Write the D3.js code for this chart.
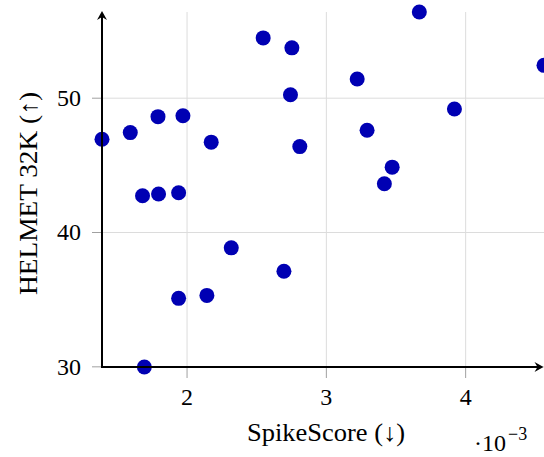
<!DOCTYPE html>
<html>
<head>
<meta charset="utf-8">
<script src="https://cdn.jsdelivr.net/npm/d3@7"></script>
<style>
  body { margin: 0; background: #fff; }
  svg text { font-family: "Liberation Serif", serif; fill: #000; }
</style>
</head>
<body>
<svg id="main_svg_container" width="544" height="457"></svg>
<script>
// SpikeScore values are in units of 1e-3
var spike_score = [1.393, 1.596, 1.795, 1.974, 2.550, 2.756, 2.746, 2.177, 2.813,
                   1.684, 1.799, 1.943, 2.321, 2.699, 1.943, 2.146, 1.697,
                   3.671, 4.566, 3.225, 3.923, 3.296, 3.476, 3.420];
var helmet_32k = [46.91, 47.40, 48.59, 48.66, 54.45, 53.71, 50.22, 46.69, 46.36,
                  42.70, 42.83, 42.92, 38.82, 37.08, 35.06, 35.28, 29.95,
                  56.38, 52.41, 51.39, 49.16, 47.58, 44.83, 43.59];
var x_ticks = [2, 3, 4];
var y_ticks = [30, 40, 50];

var svg_width = 544;
var svg_height = 457;
var margin = {left: 102, right: 0, top: 12, bottom: 90};

var svg = d3.select("#main_svg_container");

var x = d3.scaleLinear()
    .domain(d3.extent(spike_score))
    .range([margin.left, svg_width - margin.right]);

var y = d3.scaleLinear()
    .domain(d3.extent(helmet_32k))
    .range([svg_height - margin.bottom, margin.top]);

var x0 = x.range()[0], x1 = x.range()[1];
var y0 = y.range()[0], y1 = y.range()[1];


function drawGrid() {
  svg.append("g")
      .attr("transform", "translate(0," + y0 + ")")
      .call(d3.axisBottom(x).tickValues(x_ticks).tickSize(-(y0 - y1)).tickFormat(""))
      .call(function(g) { g.select(".domain").remove(); })
      .selectAll("line")
      .attr("stroke", "#dcdcdc");

  svg.append("g")
      .attr("transform", "translate(" + x0 + ",0)")
      .call(d3.axisLeft(y).tickValues(y_ticks).tickSize(-(x1 - x0)).tickFormat(""))
      .call(function(g) { g.select(".domain").remove(); })
      .selectAll("line")
      .attr("stroke", "#dcdcdc");
}


function drawTicks() {
  var gx = svg.append("g")
      .attr("transform", "translate(0," + y0 + ")")
      .call(d3.axisBottom(x).tickValues(x_ticks).tickSize(11).tickPadding(10).tickFormat(d3.format("d")));
  gx.select(".domain").remove();
  gx.selectAll("line").attr("stroke", "#a0a0a0");
  gx.selectAll("text")
      .attr("font-size", "24px")
      .attr("font-family", "Liberation Serif");

  var gy = svg.append("g")
      .attr("transform", "translate(" + x0 + ",0)")
      .call(d3.axisLeft(y).tickValues(y_ticks).tickSize(10).tickPadding(11).tickFormat(d3.format("d")));
  gy.select(".domain").remove();
  gy.selectAll("line").attr("stroke", "#a0a0a0");
  gy.selectAll("text")
      .attr("font-size", "24px")
      .attr("font-family", "Liberation Serif");
}


function drawPoints() {
  svg.append("g")
      .selectAll("circle")
      .data(d3.range(spike_score.length))
      .enter()
      .append("circle")
      .attr("cx", function(i) { return x(spike_score[i]); })
      .attr("cy", function(i) { return y(helmet_32k[i]); })
      .attr("r", 7.5)
      .attr("fill", "#0000b3");
}


function drawAxisLines() {
  // y axis with arrow on top
  svg.append("line")
      .attr("x1", x0).attr("y1", y0 + 1)
      .attr("x2", x0).attr("y2", y1 + 4)
      .attr("stroke", "#000")
      .attr("stroke-width", 2);
  svg.append("path")
      .attr("d", "M" + x0 + "," + (y1 - 1) +
                 "L" + (x0 + 5) + "," + (y1 + 8) +
                 "L" + x0 + "," + (y1 + 5) +
                 "L" + (x0 - 5) + "," + (y1 + 8) + "Z")
      .attr("fill", "#000");

  // x axis with arrow on the right
  svg.append("line")
      .attr("x1", x0 - 1).attr("y1", y0)
      .attr("x2", x1 - 4).attr("y2", y0)
      .attr("stroke", "#000")
      .attr("stroke-width", 2);
  svg.append("path")
      .attr("d", "M" + (x1 - 0.5) + "," + y0 +
                 "L" + (x1 - 9.5) + "," + (y0 - 5) +
                 "L" + (x1 - 6.5) + "," + y0 +
                 "L" + (x1 - 9.5) + "," + (y0 + 5) + "Z")
      .attr("fill", "#000");
}


function drawLabels() {
  svg.append("text")
      .attr("x", 326)
      .attr("y", 441)
      .attr("text-anchor", "middle")
      .attr("font-size", "25px")
      .attr("textLength", 158)
      .attr("lengthAdjust", "spacingAndGlyphs")
      .text("SpikeScore (↓)");

  svg.append("text")
      .attr("transform", "translate(37,193.5) rotate(-90)")
      .attr("text-anchor", "middle")
      .attr("font-size", "25px")
      .attr("textLength", 203)
      .attr("lengthAdjust", "spacingAndGlyphs")
      .text("HELMET 32K (↑)");

  var scale_text = svg.append("text")
      .attr("x", 474)
      .attr("y", 451)
      .attr("font-size", "24px");
  scale_text.append("tspan").text("·10");
  scale_text.append("tspan")
      .attr("dy", -11)
      .attr("dx", 2)
      .attr("font-size", "18px")
      .text("−3");
}


drawGrid();
drawTicks();
drawPoints();
drawAxisLines();
drawLabels();
</script>
</body>
</html>
